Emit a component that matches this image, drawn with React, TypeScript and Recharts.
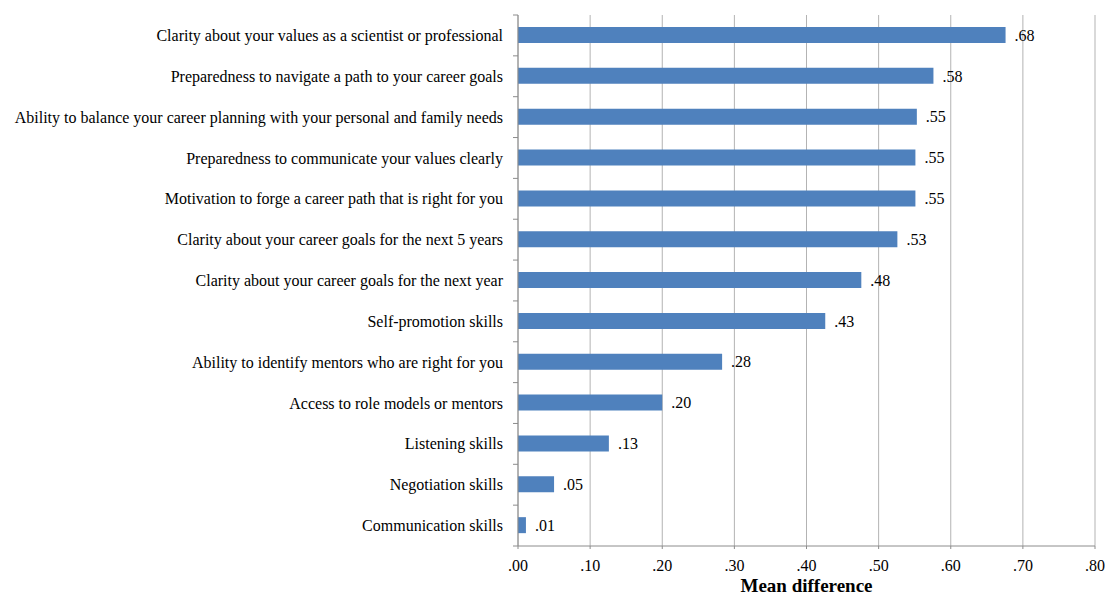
import { Bar, BarChart, CartesianGrid, LabelList, XAxis, YAxis } from "recharts";

const categories = [
  "Clarity about your values as a scientist or professional",
  "Preparedness to navigate a path to your career goals",
  "Ability to balance your career planning with your personal and family needs",
  "Preparedness to communicate your values clearly",
  "Motivation to forge a career path that is right for you",
  "Clarity about your career goals for the next 5 years",
  "Clarity about your career goals for the next year",
  "Self-promotion skills",
  "Ability to identify mentors who are right for you",
  "Access to role models or mentors",
  "Listening skills",
  "Negotiation skills",
  "Communication skills",
];

const meanDiff = [0.676, 0.576, 0.553, 0.551, 0.551, 0.526, 0.476, 0.426, 0.283, 0.2, 0.126, 0.05, 0.011];

const xTicks = [0, 0.1, 0.2, 0.3, 0.4, 0.5, 0.6, 0.7, 0.8];

const data = categories.map((name, i) => ({ name, value: meanDiff[i] }));

const FONT = '"Liberation Serif", "Times New Roman", serif';
const AXIS = "#8c8c8c";
const GRID = "#b3b3b3";

function fmt(v: number | string | undefined): string {
  if (v == null) return "";
  return Number(v).toFixed(2).replace(/^0/, "");
}

const TOP = 15;
const BOTTOM = 51;
const HEIGHT = 597;
const BAND = (HEIGHT - TOP - BOTTOM) / categories.length;

function CategoryTick(props: any) {
  const { x, y, payload, index } = props;
  const axisX = x + 15;
  const top = y - BAND / 2;
  return (
    <g>
      <line x1={axisX - 5} x2={axisX} y1={top} y2={top} stroke={AXIS} />
      {index === categories.length - 1 && (
        <line x1={axisX - 5} x2={axisX} y1={top + BAND} y2={top + BAND} stroke={AXIS} />
      )}
      <text x={x} y={y} dy="0.35em" textAnchor="end" fontSize={16} fontFamily={FONT} fill="#000">
        {payload.value}
      </text>
    </g>
  );
}

export default function App() {
  return (
    <div style={{ position: "absolute", left: 0, top: 0, background: "#fff" }}>
      <BarChart
        width={1105}
        height={HEIGHT}
        data={data}
        layout="vertical"
        barSize={16}
        margin={{ top: TOP, right: 10, left: 0, bottom: 0 }}
      >
        <CartesianGrid horizontal={false} stroke={GRID} />
        <XAxis
          type="number"
          domain={[0, 0.8]}
          ticks={xTicks}
          tickFormatter={fmt}
          stroke={AXIS}
          tickSize={3}
          tickMargin={11}
          height={BOTTOM}
          tick={{ fontSize: 16, fontFamily: FONT, fill: "#000" }}
          label={{
            value: "Mean difference",
            position: "insideBottom",
            offset: 5,
            style: { fontSize: 19, fontWeight: "bold", fontFamily: FONT, fill: "#000" },
          }}
        />
        <YAxis
          type="category"
          dataKey="name"
          width={518}
          stroke={AXIS}
          tickLine={false}
          tickSize={5}
          tickMargin={10}
          interval={0}
          tick={<CategoryTick />}
        />
        <Bar dataKey="value" fill="#4f81bd" isAnimationActive={false}>
          <LabelList
            dataKey="value"
            position="right"
            offset={9}
            formatter={fmt}
            style={{ fontSize: 16, fontFamily: FONT, fill: "#000" }}
          />
        </Bar>
      </BarChart>
    </div>
  );
}
